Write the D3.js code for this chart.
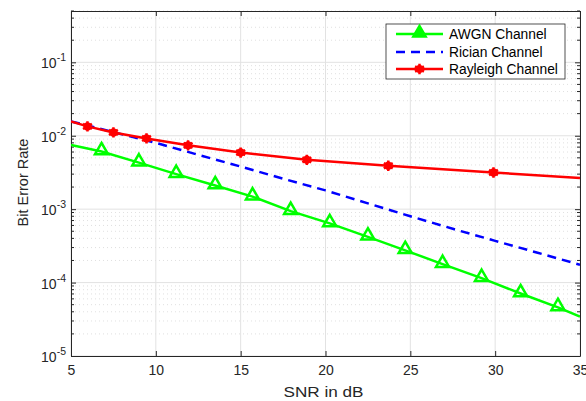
<!DOCTYPE html>
<html>
<head>
<meta charset="utf-8">
<script src="https://cdn.jsdelivr.net/npm/d3@7"></script>
<style>
  body { margin: 0; background: #fff; }
  svg { font-family: "Liberation Sans", Arial, sans-serif; }
</style>
</head>
<body>
<div id="chart"></div>
<script>
// data
var awgnSnr = [5, 6.8, 9.0, 11.2, 13.5, 15.7, 17.95, 20.25, 22.5, 24.7, 26.9, 29.2, 31.5, 33.7, 35];
var awgnBer = [7.5e-3, 6.1e-3, 4.3e-3, 3.0e-3, 2.1e-3, 1.48e-3, 9.4e-4, 6.4e-4, 4.2e-4, 2.75e-4, 1.78e-4, 1.15e-4, 7.1e-5, 4.6e-5, 3.45e-5];
var awgnMarked = [false, true, true, true, true, true, true, true, true, true, true, true, true, true, false];

var ricianSnr = [5, 7.5, 10, 12.5, 15, 17.5, 20, 22.5, 25, 27.5, 30, 32.5, 35];
var ricianBer = [1.57e-2, 1.12e-2, 8.0e-3, 5.5e-3, 3.8e-3, 2.6e-3, 1.8e-3, 1.2e-3, 8.0e-4, 5.4e-4, 3.7e-4, 2.55e-4, 1.75e-4];

var rayleighSnr = [5, 5.97, 7.5, 9.45, 11.9, 15.0, 18.9, 23.7, 29.9, 35];
var rayleighBer = [1.57e-2, 1.34e-2, 1.11e-2, 9.2e-3, 7.4e-3, 5.9e-3, 4.7e-3, 3.9e-3, 3.16e-3, 2.65e-3];
var rayleighMarked = [false, true, true, true, true, true, true, true, true, false];

var xTicks = [5, 10, 15, 20, 25, 30, 35];
var yTicks = [1e-5, 1e-4, 1e-3, 1e-2, 1e-1];
var yTickExp = ["-5", "-4", "-3", "-2", "-1"];
var legendNames = ["AWGN Channel", "Rician Channel", "Rayleigh Channel"];

var margin = { top: 11, right: 6, bottom: 45, left: 71 };
var width = 586 - margin.left - margin.right;
var height = 401 - margin.top - margin.bottom;

var x = d3.scaleLinear().domain([5, 35]).range([0, width]);
var y = d3.scaleLog().domain([1e-5, 0.5]).range([height, 0]);

var svg = d3.select("#chart").append("svg")
  .attr("width", 586)
  .attr("height", 401)
  .append("g")
  .attr("transform", "translate(" + margin.left + "," + margin.top + ")");

// minor y values
var minorY = [];
for (var e = -5; e <= -1; e++) {
  for (var m = 2; m <= 9; m++) {
    var v = m * Math.pow(10, e);
    if (v <= 0.5) minorY.push(v);
  }
}

// grid
svg.append("g").selectAll("line").data(minorY).enter().append("line")
  .attr("x1", 0).attr("x2", width)
  .attr("y1", function (d) { return y(d); }).attr("y2", function (d) { return y(d); })
  .attr("stroke", "#d8d8d8").attr("stroke-width", 0.8).attr("stroke-dasharray", "1,3");
svg.append("g").selectAll("line").data(yTicks).enter().append("line")
  .attr("x1", 0).attr("x2", width)
  .attr("y1", function (d) { return y(d); }).attr("y2", function (d) { return y(d); })
  .attr("stroke", "#e2e2e2").attr("stroke-width", 1);
svg.append("g").selectAll("line").data(xTicks).enter().append("line")
  .attr("x1", function (d) { return x(d); }).attr("x2", function (d) { return x(d); })
  .attr("y1", 0).attr("y2", height)
  .attr("stroke", "#e2e2e2").attr("stroke-width", 1);

// axes (MATLAB style, ticks inside)
var xAxis = d3.axisBottom(x).tickValues(xTicks).tickSizeInner(-5).tickSizeOuter(0).tickPadding(9);
var gx = svg.append("g").attr("transform", "translate(0," + height + ")").call(xAxis);
gx.selectAll("text").attr("font-size", 14).attr("fill", "#262626");

var xTop = d3.axisTop(x).tickValues(xTicks).tickSizeInner(-5).tickSizeOuter(0).tickFormat("");
svg.append("g").call(xTop);

var yAxis = d3.axisLeft(y).tickValues(yTicks).tickSizeInner(-5).tickSizeOuter(0).tickFormat("");
svg.append("g").call(yAxis);
var yRight = d3.axisRight(y).tickValues(yTicks).tickSizeInner(-5).tickSizeOuter(0).tickFormat("");
svg.append("g").attr("transform", "translate(" + width + ",0)").call(yRight);

// minor ticks left and right
svg.append("g").selectAll("line").data(minorY).enter().append("line")
  .attr("x1", 0).attr("x2", 3)
  .attr("y1", function (d) { return y(d); }).attr("y2", function (d) { return y(d); })
  .attr("stroke", "#262626");
svg.append("g").selectAll("line").data(minorY).enter().append("line")
  .attr("x1", width - 3).attr("x2", width)
  .attr("y1", function (d) { return y(d); }).attr("y2", function (d) { return y(d); })
  .attr("stroke", "#262626");

svg.selectAll(".domain").attr("stroke", "#262626");
svg.selectAll(".tick line").attr("stroke", "#262626");

// y tick labels with superscript
var yl = svg.append("g").selectAll("text").data(yTicks).enter().append("text")
  .attr("x", -5).attr("y", function (d) { return y(d) + 6; })
  .attr("text-anchor", "end").attr("font-size", 14).attr("fill", "#262626");
yl.append("tspan").text("10");
yl.append("tspan").attr("dy", -7).attr("font-size", 10.5)
  .text(function (d, i) { return yTickExp[i]; });

// axis labels
svg.append("text")
  .attr("x", width / 2 - 2).attr("y", height + 41)
  .attr("text-anchor", "middle").attr("font-size", 15).attr("fill", "#262626")
  .attr("textLength", 80).attr("lengthAdjust", "spacingAndGlyphs")
  .text("SNR in dB");
svg.append("text")
  .attr("transform", "translate(" + (-43) + "," + (height / 2 - 1) + ") rotate(-90)")
  .attr("text-anchor", "middle").attr("font-size", 14.5).attr("fill", "#262626")
  .text("Bit Error Rate");

// lines
var clip = svg.append("clipPath").attr("id", "clip").append("rect")
  .attr("width", width).attr("height", height);
var plot = svg.append("g").attr("clip-path", "url(#clip)");

function makeLine(xs) {
  return d3.line().x(function (d, i) { return x(xs[i]); }).y(function (d) { return y(d); });
}

plot.append("path").datum(awgnBer)
  .attr("d", makeLine(awgnSnr))
  .attr("fill", "none").attr("stroke", "#00ff00").attr("stroke-width", 2.5);
plot.append("path").datum(ricianBer)
  .attr("d", makeLine(ricianSnr))
  .attr("fill", "none").attr("stroke", "#0000ff").attr("stroke-width", 2.5)
  .attr("stroke-dasharray", "9,6");
plot.append("path").datum(rayleighBer)
  .attr("d", makeLine(rayleighSnr))
  .attr("fill", "none").attr("stroke", "#ff0000").attr("stroke-width", 2.5);

var tri = d3.symbol().type(d3.symbolTriangle).size(75);
var star = d3.symbol().type(d3.symbolAsterisk).size(75);

plot.append("g").selectAll("path").data(awgnBer.filter(function (d, i) { return awgnMarked[i]; }))
  .enter().append("path")
  .attr("d", tri)
  .attr("transform", function (d) {
    var i = awgnBer.indexOf(d);
    return "translate(" + x(awgnSnr[i]) + "," + (y(d) - 1) + ")";
  })
  .attr("fill", "none").attr("stroke", "#00ff00").attr("stroke-width", 2.5);

var rayPts = plot.append("g").selectAll("g").data(rayleighBer.filter(function (d, i) { return rayleighMarked[i]; }))
  .enter().append("g")
  .attr("transform", function (d) {
    var i = rayleighBer.indexOf(d);
    return "translate(" + x(rayleighSnr[i]) + "," + y(d) + ")";
  });
rayPts.append("circle").attr("r", 4.2).attr("fill", "#ff0000");
rayPts.append("path").attr("d", star)
  .attr("fill", "none").attr("stroke", "#ff0000").attr("stroke-width", 2.5);

// legend
var lg = svg.append("g").attr("transform", "translate(" + (386 - margin.left) + "," + (24 - margin.top) + ")");
lg.append("rect").attr("width", 179).attr("height", 55)
  .attr("fill", "#fff").attr("stroke", "#262626").attr("stroke-width", 0.8);
var rows = [10, 28, 45];
var colors = ["#00ff00", "#0000ff", "#ff0000"];
legendNames.forEach(function (name, i) {
  var g = lg.append("g").attr("transform", "translate(0," + rows[i] + ")");
  var ln = g.append("line").attr("x1", 10).attr("x2", 57).attr("y1", 0).attr("y2", 0)
    .attr("stroke", colors[i]).attr("stroke-width", 2.5);
  if (i === 1) ln.attr("stroke-dasharray", "9,6");
  if (i === 0) {
    g.append("path").attr("d", tri).attr("transform", "translate(33.5,-1)")
      .attr("fill", "#00ff00").attr("stroke", "#00ff00").attr("stroke-width", 2);
  }
  if (i === 2) {
    g.append("circle").attr("cx", 33.5).attr("r", 4).attr("fill", "#ff0000");
    g.append("path").attr("d", star).attr("transform", "translate(33.5,0)")
      .attr("fill", "none").attr("stroke", "#ff0000").attr("stroke-width", 2.5);
  }
  g.append("text").attr("x", 63).attr("y", 5).attr("font-size", 13.8).attr("fill", "#000")
    .text(name);
});
</script>
</body>
</html>
